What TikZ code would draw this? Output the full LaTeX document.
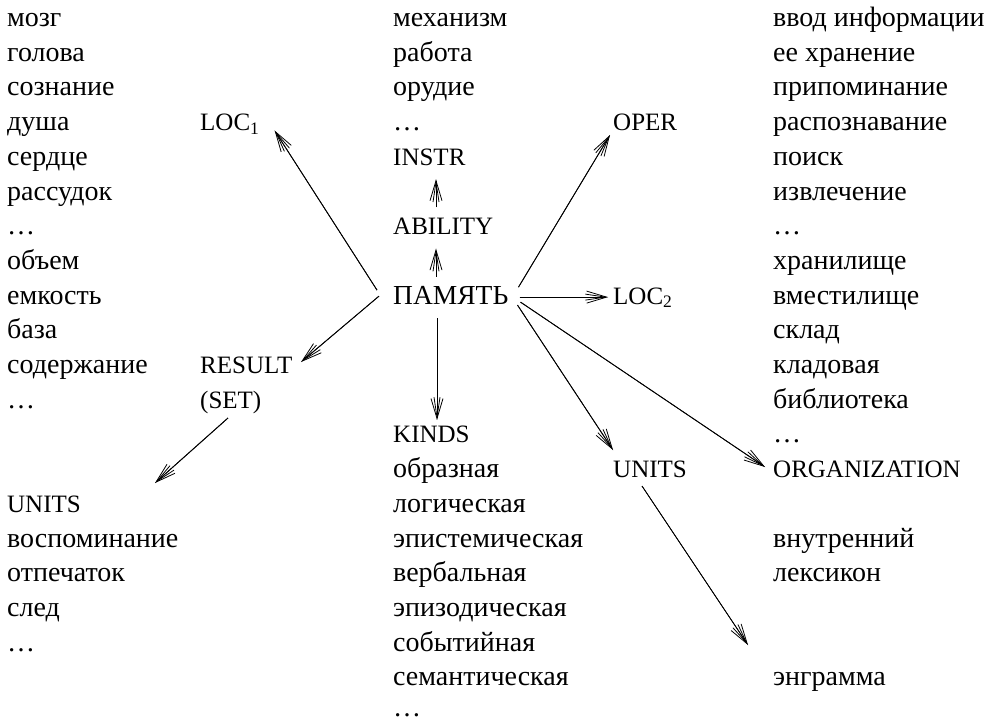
\documentclass[tikz,border=0pt]{standalone}
\usepackage{fontspec}
\setmainfont{Liberation Serif}
\usetikzlibrary{arrows.meta}
\tikzset{
  t/.style={anchor=base west, inner sep=0pt, font=\fontsize{28}{34}\selectfont},
  c/.style={anchor=base west, inner sep=0pt, font=\fontsize{25}{30}\selectfont},
  pm/.style={anchor=base west, inner sep=0pt, font=\fontsize{27.5}{33}\selectfont},
  arr/.style={line width=0.8pt, -{Straight Barb[length=20pt,width=12pt]},
    postaction={draw, line width=0.8pt, -{Straight Barb[length=20pt,width=6pt]}}}
}
\begin{document}
\begin{tikzpicture}[x=1pt, y=-1pt]
\useasboundingbox (0,0) rectangle (992,724);
\def\bl#1{26.5+34.7*#1}
% column 1
\foreach \k/\s in {0/мозг,1/голова,2/сознание,3/душа,4/сердце,5/рассудок,6/\dots,7/объем,8/емкость,9/база,10/содержание,11/\dots,15/воспоминание,16/отпечаток,17/след,18/\dots}
  \node[t] (a\k) at (7,{\bl{\k}}) {\s};
\node[c] (unitsl) at (7,{\bl{14}}) {UNITS};
% column 2
\node[c] (loca) at (200,{\bl{3}}) {LOC\textsubscript{1}};
\node[c] (result) at (200,{\bl{10}}) {RESULT};
\node[c] (set) at (200,{\bl{11}}) {(SET)};
% column 3
\foreach \k/\s in {0/механизм,1/работа,2/орудие,3/\dots,13/образная,14/логическая,15/эпистемическая,16/вербальная,17/эпизодическая,18/событийная,19/семантическая}
  \node[t] (m\k) at (393,{\bl{\k}}) {\s};
\node[t] (m20) at (393,716) {\dots};
\node[c] (instr) at (393,{\bl{4}}) {INSTR};
\node[c] (abil) at (393,{\bl{6}}) {ABILITY};
\node[pm] (pam) at (393,{\bl{8}}) {ПАМЯТЬ};
\node[c] (kinds) at (393,{\bl{12}}) {KINDS};
% column 4
\node[c] (oper) at (613,{\bl{3}}) {OPER};
\node[c] (locb) at (613,{\bl{8}}) {LOC\textsubscript{2}};
\node[c] (unitsr) at (613,{\bl{13}}) {UNITS};
% column 5
\foreach \k/\s in {0/ввод информации,1/ее хранение,2/припоминание,3/распознавание,4/поиск,5/извлечение,6/\dots,7/хранилище,8/вместилище,9/склад,10/кладовая,11/библиотека,12/\dots,15/внутренний,16/лексикон,19/энграмма}
  \node[t] (r\k) at (773,{\bl{\k}}) {\s};
\node[c] (org) at (773,{\bl{13}}) {ORGANIZATION};
% free ends
\coordinate (endset) at (155,483);
\coordinate (endunits) at (748,645);
% arrows
\draw[arr] ([shift={(-16,-14)}]pam.base west) -- ([shift={(15,0)}]loca.base east);
\draw[arr] ([shift={(43,-27.5)}]pam.base west) -- ([shift={(43,14)}]abil.base west);
\draw[arr] ([shift={(43,-27.5)}]abil.base west) -- ([shift={(43,14)}]instr.base west);
\draw[arr] ([shift={(44,14)}]pam.base west) -- ([shift={(44,-23)}]kinds.base west);
\draw[arr] ([shift={(10,-17)}]pam.base east) -- ([shift={(-3,4.4)}]oper.base west);
\draw[arr] ([shift={(11,-7)}]pam.base east) -- ([shift={(-5,-7)}]locb.base west);
\draw[arr] ([shift={(9,1)}]pam.base east) -- ([shift={(0,-27.6)}]unitsr.base west);
\draw[arr] ([shift={(12,-2)}]pam.base east) -- ([shift={(-8,-10.6)}]org.base west);
\draw[arr] ([shift={(29,8.4)}]unitsr.base west) -- (endunits);
\draw[arr] ([shift={(-14,-8)}]pam.base west) -- ([shift={(8.5,-11.5)}]result.base east);
\draw[arr] ([shift={(28,9.8)}]set.base west) -- (endset);
\end{tikzpicture}
\end{document}
